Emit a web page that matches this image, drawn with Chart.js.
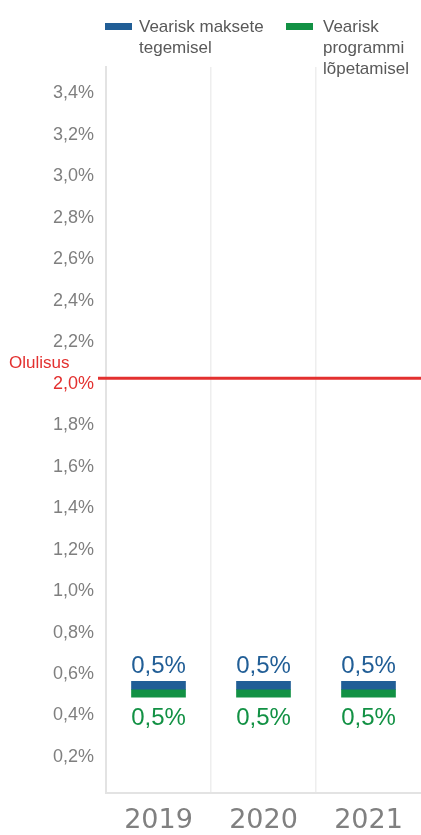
<!DOCTYPE html>
<html lang="et">
<head>
<meta charset="utf-8">
<title>Vearisk</title>
<script src="https://cdn.jsdelivr.net/npm/chart.js@4.4.1/dist/chart.umd.min.js"></script>
<style>
  html, body { margin: 0; padding: 0; background: #ffffff; }
  #wrap { position: relative; width: 421px; height: 835px; }
  #legend {
    position: absolute; top: 0; left: 0; width: 421px; height: 67px;
    font-family: "Liberation Sans", Arial, sans-serif; font-size: 17px;
    line-height: 21px; color: #595959;
  }
  .item { position: absolute; top: 16px; }
  .sw { position: absolute; left: 0; top: 7px; width: 27px; height: 7px; }
  .tx { position: absolute; top: 0; }
  canvas { position: absolute; top: 0; left: 0; }
</style>
</head>
<body>
<div id="wrap">
  <canvas id="chart" width="421" height="835"></canvas>
  <div id="legend"></div>
</div>
<script>
// Years on the x axis
const categories = ['2019', '2020', '2021'];
// Error risk when making payments (%)
const riskPayments = [0.5, 0.5, 0.5];
// Error risk at programme closure (%)
const riskClosure = [0.5, 0.5, 0.5];
// Tick marks on the y axis (%)
const yTicks = [0.2, 0.4, 0.6, 0.8, 1.0, 1.2, 1.4, 1.6, 1.8, 2.0, 2.2, 2.4, 2.6, 2.8, 3.0, 3.2, 3.4];
// Materiality threshold (%)
const thresholdValue = 2.0;
const thresholdLabel = 'Olulisus';
const seriesNames = ['Vearisk maksete tegemisel', 'Vearisk programmi lõpetamisel'];

const BLUE = '#215e96';
const GREEN = '#129144';
const RED = '#e3302f';
const GREY = '#7f7f7f';
const markerDepth = 0.038;   // visual thickness of each marker bar, in axis units

const fmt = v => v.toFixed(1).replace('.', ',') + '%';

// HTML legend with wrapped series names
const legendLayout = [
  { left: 105, textLeft: 34, width: 135, color: BLUE },
  { left: 286, textLeft: 37, width: 98, color: GREEN }
];
const legendEl = document.getElementById('legend');
seriesNames.forEach((name, i) => {
  const L = legendLayout[i];
  const item = document.createElement('div');
  item.className = 'item';
  item.style.left = L.left + 'px';
  const sw = document.createElement('div');
  sw.className = 'sw';
  sw.style.background = L.color;
  const tx = document.createElement('div');
  tx.className = 'tx';
  tx.style.left = L.textLeft + 'px';
  tx.style.width = L.width + 'px';
  tx.textContent = name;
  item.appendChild(sw);
  item.appendChild(tx);
  legendEl.appendChild(item);
});

// Threshold line, its caption, and value labels above/below the markers
const overlay = {
  id: 'overlay',
  afterDatasetsDraw(chart) {
    const { ctx, chartArea, scales: { y } } = chart;
    const ty = y.getPixelForValue(thresholdValue);
    ctx.save();
    ctx.strokeStyle = RED;
    ctx.lineWidth = 3;
    ctx.beginPath();
    ctx.moveTo(chartArea.left - 8, ty);
    ctx.lineTo(chart.width, ty);
    ctx.stroke();

    ctx.fillStyle = RED;
    ctx.font = '17px "Liberation Sans", Arial, sans-serif';
    ctx.textAlign = 'left';
    ctx.textBaseline = 'middle';
    ctx.fillText(thresholdLabel, 9, ty - 15);

    ctx.font = '24px "Liberation Sans", Arial, sans-serif';
    ctx.textAlign = 'center';
    chart.data.datasets.forEach((ds, i) => {
      const meta = chart.getDatasetMeta(i);
      meta.data.forEach((el, j) => {
        const top = Math.min(el.y, el.base);
        const bottom = Math.max(el.y, el.base);
        ctx.fillStyle = ds.backgroundColor;
        if (ds.labelSide === 'above') {
          ctx.fillText(fmt(ds.values[j]), el.x, top - 15);
        } else {
          ctx.fillText(fmt(ds.values[j]), el.x, bottom + 21);
        }
      });
    });
    ctx.restore();
  }
};

new Chart(document.getElementById('chart'), {
  type: 'bar',
  data: {
    labels: categories,
    datasets: [
      {
        label: seriesNames[0],
        values: riskPayments,
        labelSide: 'above',
        data: riskPayments.map(v => [v, v + markerDepth]),
        backgroundColor: BLUE
      },
      {
        label: seriesNames[1],
        values: riskClosure,
        labelSide: 'below',
        data: riskClosure.map(v => [v - markerDepth, v]),
        backgroundColor: GREEN
      }
    ]
  },
  options: {
    responsive: false,
    devicePixelRatio: 1,
    animation: false,
    layout: { padding: { top: 67, left: 0, right: 0, bottom: 0 } },
    datasets: {
      bar: { grouped: false, barThickness: 54, borderWidth: 0, borderSkipped: false }
    },
    plugins: {
      legend: { display: false },
      tooltip: { enabled: false }
    },
    scales: {
      x: {
        grid: {
          // no divider along the far right edge
          color: ctx => (ctx.tick ? '#eeeeee' : 'rgba(0,0,0,0)'),
          lineWidth: 1.5,
          drawTicks: false,
          offset: true
        },
        border: { color: '#e3e3e3', width: 2 },
        ticks: {
          color: '#808080',
          font: { family: '"DejaVu Sans"', size: 27 },
          padding: 12
        },
        afterFit(scale) { scale.height = 42; }
      },
      y: {
        min: 0,
        max: 3.5,
        grid: { display: false, drawTicks: false },
        border: { color: '#e3e3e3', width: 2 },
        afterBuildTicks(scale) { scale.ticks = yTicks.map(v => ({ value: v })); },
        ticks: {
          callback: v => fmt(v),
          color: ctx => (ctx.tick && ctx.tick.value === thresholdValue ? RED : GREY),
          font: { family: '"Liberation Sans"', size: 18 },
          padding: 12,
          labelOffset: 5.5
        },
        afterFit(scale) { scale.width = 106; }
      }
    }
  },
  plugins: [overlay]
});
</script>
</body>
</html>
